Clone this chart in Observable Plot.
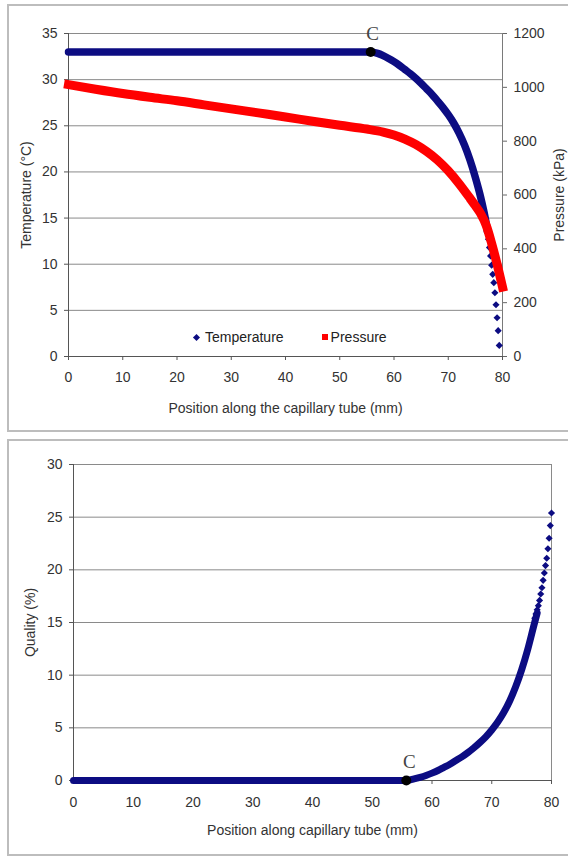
<!DOCTYPE html>
<html><head><meta charset="utf-8">
<script src="https://cdn.jsdelivr.net/npm/d3@7"></script>
<script src="https://cdn.jsdelivr.net/npm/@observablehq/plot@0.6"></script>
<style>
html,body{margin:0;padding:0;background:#fff;}
#root{position:relative;width:568px;height:857px;overflow:hidden;background:#fff;font-family:"Liberation Sans",Arial,sans-serif;}
.panel{position:absolute;border:2px solid #bdbdbd;box-sizing:border-box;}
.chart{position:absolute;}
.legend{position:absolute;font-size:14px;color:#222;display:flex;align-items:center;white-space:nowrap;}
.legend .item{display:flex;align-items:center;}
.legend .sw{display:inline-block;margin-right:4px;}
</style></head><body>
<div id="root">
  <div class="panel" style="left:7px;top:4px;width:600px;height:428px"></div>
  <div class="panel" style="left:7px;top:439px;width:600px;height:417px"></div>
  <div id="top" class="chart" style="left:8px;top:5px"></div>
  <div id="bottom" class="chart" style="left:8px;top:440px"></div>
  <div id="legend" class="legend" style="left:194px;top:329px"></div>
</div>
<script>
// ---- tick labels ----
const positionTicks = [0, 10, 20, 30, 40, 50, 60, 70, 80];
const temperatureTicks = [0, 5, 10, 15, 20, 25, 30, 35];
const pressureTicks = [0, 200, 400, 600, 800, 1000, 1200];
const qualityTicks = [0, 5, 10, 15, 20, 25, 30];

// ---- series names ----
const seriesNames = ["Temperature", "Pressure"];

// ---- temperature (°C) along the tube (mm) ----
const tempPosMm = [0, 10, 20, 30, 40, 50, 55.7, 57, 58, 59, 60, 61, 62, 63, 64, 65, 66, 67, 68, 69, 70, 71, 72, 73, 74, 75, 76, 76.5, 77, 77.2];
const tempC     = [33, 33, 33, 33, 33, 33, 33, 32.85, 32.6, 32.3, 31.95, 31.55, 31.1, 30.65, 30.15, 29.6, 29.0, 28.4, 27.7, 27.0, 26.2, 25.3, 24.2, 22.9, 21.3, 19.4, 17.2, 15.9, 14.4, 13.6];
// discrete markers at the end of the tube
const tempTailPosMm = [77.0, 77.2, 77.4, 77.6, 77.8, 78.0, 78.2, 78.4, 78.6, 78.8, 79.0, 79.2, 79.4];
const tempTailC     = [14.4, 13.6, 12.7, 11.8, 10.9, 9.9, 8.9, 8.0, 6.9, 5.6, 4.2, 2.8, 1.2];

// ---- pressure (kPa) along the tube (mm) ----
const pressPosMm = [0, 5, 10, 15, 20, 25, 30, 35, 40, 45, 50, 55, 58, 60, 62, 64, 66, 68, 70, 72, 74, 75, 76, 77, 78, 79, 80];
const pressKPa   = [1010, 993, 977, 963, 950, 935, 920, 905, 890, 874, 859, 845, 834, 823, 808, 788, 762, 730, 690, 642, 588, 560, 530, 487, 420, 343, 258];

// ---- quality (%) along the tube (mm) ----
const qualPosMm = [0, 10, 20, 30, 40, 50, 55.7, 57, 58, 59, 60, 61, 62, 63, 64, 65, 66, 67, 68, 69, 70, 71, 72, 73, 74, 75, 76, 77, 77.6];
const qualPct   = [0, 0, 0, 0, 0, 0, 0, 0.15, 0.3, 0.48, 0.7, 0.95, 1.25, 1.55, 1.9, 2.25, 2.65, 3.1, 3.6, 4.15, 4.8, 5.55, 6.45, 7.55, 8.9, 10.5, 12.4, 14.6, 15.9];
const qualTailPosMm = [77.2, 77.4, 77.6, 77.8, 78.0, 78.2, 78.4, 78.6, 78.8, 79.0, 79.2, 79.4, 79.6, 79.8, 80.0];
const qualTailPct   = [15.4, 15.8, 16.2, 16.6, 17.1, 17.7, 18.3, 19.0, 19.7, 20.4, 21.1, 22.0, 23.0, 24.2, 25.4];

// ---- point C (onset of flashing) ----
const cPosMm = 55.7;
const cTempC = 33;
const cQualPct = 0;
const cLabel = "C";

// ---- build tables ----
const navy = "#0c0c82";
const red = "#ff0000";
const zip = (xs, ys) => xs.map((x, i) => ({x, y: ys[i]}));
const tempLine = zip(tempPosMm, tempC);
const tempTail = zip(tempTailPosMm, tempTailC);
const pressLine = zip(pressPosMm, pressKPa);
const qualLine = zip(qualPosMm, qualPct);
const qualTail = zip(qualTailPosMm, qualTailPct);
// secondary axis: kPa mapped onto the °C scale
const K = temperatureTicks[temperatureTicks.length - 1] / pressureTicks[pressureTicks.length - 1];

const font = "'Liberation Sans', Arial, sans-serif";
const serif = "'Liberation Serif', 'Times New Roman', serif";
const style = {fontFamily: font, fontSize: "14px", color: "#222", background: "transparent", overflow: "visible"};

const topChart = Plot.plot({
  width: 560, height: 426,
  marginLeft: 60, marginRight: 66, marginTop: 28, marginBottom: 75,
  style,
  x: {domain: [0, 80], axis: null},
  y: {domain: [0, 35], axis: null},
  marks: [
    Plot.gridY(temperatureTicks, {stroke: "#8a8a8a", strokeOpacity: 1}),
    Plot.ruleX([80], {stroke: "#7a7a7a"}),
    Plot.ruleX([0], {stroke: "#555"}),
    Plot.ruleY([0], {stroke: "#555"}),
    Plot.axisY(temperatureTicks, {anchor: "left", tickSize: 4, tickPadding: 7, stroke: "#555", fill: "#333",
      label: "Temperature (°C)", labelAnchor: "center", labelOffset: 47, labelArrow: "none"}),
    Plot.axisY(pressureTicks.map(p => p * K), {anchor: "right", tickFormat: d => String(Math.round(d / K)),
      tickSize: 4, tickPadding: 7, stroke: "#666", fill: "#333",
      label: "Pressure (kPa)", labelAnchor: "center", labelOffset: 61, labelArrow: "none"}),
    Plot.axisX(positionTicks, {anchor: "bottom", tickSize: 4, tickPadding: 12, stroke: "#555", fill: "#333",
      label: "Position along the capillary tube (mm)", labelAnchor: "center", labelOffset: 56, labelArrow: "none"}),
    Plot.line(tempLine, {x: "x", y: "y", stroke: navy, strokeWidth: 7.5, curve: "monotone-x", strokeLinecap: "round"}),
    Plot.dot(tempTail, {x: "x", y: "y", symbol: "diamond2", r: 3.2, fill: navy}),
    Plot.line(pressLine, {x: "x", y: d => d.y * K, stroke: red, strokeWidth: 9, curve: "monotone-x", strokeLinecap: "square"}),
    Plot.dot([{x: cPosMm, y: cTempC}], {x: "x", y: "y", r: 5, fill: "#000"}),
    Plot.text([{x: cPosMm, y: cTempC, t: cLabel}], {x: "x", y: "y", text: "t", dy: -18, dx: 2,
      fontFamily: serif, fontSize: 19, fill: "#444"})
  ]
});
document.getElementById("top").appendChild(topChart);

const bottomChart = Plot.plot({
  width: 560, height: 414,
  marginLeft: 65, marginRight: 17, marginTop: 24, marginBottom: 74,
  style,
  x: {domain: [0, 80], axis: null},
  y: {domain: [0, 30], axis: null},
  marks: [
    Plot.gridY(qualityTicks, {stroke: "#8a8a8a", strokeOpacity: 1}),
    Plot.ruleX([80], {stroke: "#8a8a8a"}),
    Plot.ruleX([0], {stroke: "#555"}),
    Plot.ruleY([0], {stroke: "#555"}),
    Plot.axisY(qualityTicks, {anchor: "left", tickSize: 4, tickPadding: 7, stroke: "#555", fill: "#333",
      label: "Quality (%)", labelAnchor: "center", labelOffset: 48, labelArrow: "none"}),
    Plot.axisX(positionTicks, {anchor: "bottom", tickSize: 4, tickPadding: 13, stroke: "#555", fill: "#333",
      label: "Position along capillary tube (mm)", labelAnchor: "center", labelOffset: 54, labelArrow: "none"}),
    Plot.line(qualLine, {x: "x", y: "y", stroke: navy, strokeWidth: 7, curve: "monotone-x", strokeLinecap: "round"}),
    Plot.dot(qualTail, {x: "x", y: "y", symbol: "diamond2", r: 3.2, fill: navy}),
    Plot.dot([{x: cPosMm, y: cQualPct}], {x: "x", y: "y", r: 5, fill: "#000"}),
    Plot.text([{x: cPosMm, y: cQualPct, t: cLabel}], {x: "x", y: "y", text: "t", dy: -19, dx: 3,
      fontFamily: serif, fontSize: 19, fill: "#444"})
  ]
});
document.getElementById("bottom").appendChild(bottomChart);

// ---- legend ----
const legend = document.getElementById("legend");
const swatches = [
  `<span class="sw" style="width:5px;height:5px;background:${navy};transform:rotate(45deg);margin-right:6px"></span>`,
  `<span class="sw" style="width:6px;height:6px;background:${red};margin-right:3px"></span>`
];
seriesNames.forEach((name, i) => {
  const it = document.createElement("span");
  it.className = "item";
  it.style.marginRight = i === 0 ? "38px" : "0";
  it.innerHTML = swatches[i] + `<span>${name}</span>`;
  legend.appendChild(it);
});
</script>
</body></html>
